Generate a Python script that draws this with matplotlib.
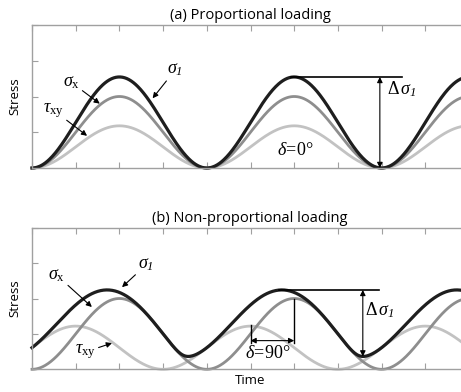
import numpy as np
import matplotlib
matplotlib.use('Agg')
from matplotlib import pyplot as plt

plt.rcParams['mathtext.fontset'] = 'custom'
plt.rcParams['mathtext.rm'] = 'Liberation Serif'
plt.rcParams['mathtext.it'] = 'Liberation Serif:italic'
plt.rcParams['mathtext.cal'] = 'Liberation Serif:italic'  # used for the italic "1"

# loading parameters (x in tick units, one period = 4 ticks)
panels = ['(a) Proportional loading', '(b) Non-proportional loading']
period = 4.0
sx_peak = [2.0, 2.0]
txy_peak = [1.18, 1.22]
phase_deg = [0, 90]
x_ticks = [0, 1, 2, 3, 4, 5, 6, 7, 8, 9, 10]
y_ticks = [0, 1, 2, 3, 4]

black = '#1e1e1e'
mid = '#8e8e8e'
light = '#c2c2c2'
spine = '#a0a0a0'
serif = 'Liberation Serif'

fig = plt.figure(figsize=(4.61, 3.92), dpi=100)
ax1 = fig.add_axes([32/461, 1-168/392, 437/461, 143/392])
ax2 = fig.add_axes([32/461, 1-369.3/392, 437/461, 141.6/392])

t = np.linspace(0, 10, 600)
curves = []
for ax, title, sp, tp, ph in zip([ax1, ax2], panels, sx_peak, txy_peak, phase_deg):
    w = 2*np.pi*t/period
    sx = sp/2*(1 - np.cos(w))
    txy = tp/2*(1 - np.cos(w + np.radians(ph)))
    s1 = sx/2 + np.sqrt((sx/2)**2 + txy**2)
    ax.plot(t, txy, color=light, lw=2.0, clip_on=False)
    ax.plot(t, sx, color=mid, lw=2.0, clip_on=False)
    ax.plot(t, s1, color=black, lw=2.3, clip_on=False)
    curves.append(s1)

    ax.set_xlim(0, 10)
    ax.set_ylim(0, 4)
    ax.set_xticks(x_ticks)
    ax.set_yticks(y_ticks)
    ax.set_xticklabels([])
    ax.set_yticklabels([])
    ax.tick_params(direction='in', length=4, width=0.8, color=spine,
                   top=True, right=False)
    for s in ax.spines.values():
        s.set_color(spine)
        s.set_linewidth(1.0)
    ax.spines['right'].set_visible(False)
    ax.set_title(title, family='Open Sans', fontsize=10.5, pad=4, x=218/437)
    ax.set_ylabel('Stress', family='Open Sans', fontsize=9.5, labelpad=4)

ax2.set_xlabel('Time', family='Open Sans', fontsize=9.5, labelpad=0, x=218/437)

arw = dict(arrowstyle='-|>', lw=0.8, color='black', mutation_scale=8,
           shrinkA=0, shrinkB=0)
dbl = dict(arrowstyle='<|-|>', lw=0.8, color='black', mutation_scale=8,
           shrinkA=0, shrinkB=0)
lab = dict(fontsize=13, va='center', ha='left', family=serif)

s1_lab = r'$\sigma_{\mathcal{1}}$'
ds1_lab = r'$\Delta\,\sigma_{\mathcal{1}}$'

# panel (a)
ax1.annotate(s1_lab, xy=(2.76, 1.95), xytext=(3.1, 2.75),
             arrowprops=arw, **lab)
ax1.annotate(r'$\sigma_{\mathrm{x}}$', xy=(1.55, 1.8), xytext=(0.7, 2.4),
             arrowprops=arw, **lab)
ax1.annotate(r'$\tau_{\mathrm{xy}}$', xy=(1.26, 0.9), xytext=(0.25, 1.62),
             arrowprops=arw, **lab)
pk = curves[0].max()
ax1.plot([5.93, 8.47], [pk, pk], color='black', lw=1.2)
ax1.annotate('', xy=(7.96, 0), xytext=(7.96, pk), arrowprops=dbl)
ax1.text(8.12, 2.2, ds1_lab, **lab)
ax1.text(5.6, 0.48, r'$\delta\!=\!0°$', **lab)

# panel (b)
ax2.annotate(s1_lab, xy=(2.06, 2.32), xytext=(2.43, 2.95),
             arrowprops=arw, **lab)
ax2.annotate(r'$\sigma_{\mathrm{x}}$', xy=(1.37, 1.76), xytext=(0.37, 2.66),
             arrowprops=arw, **lab)
ax2.annotate(r'$\tau_{\mathrm{xy}}$', xy=(1.83, 0.74), xytext=(0.98, 0.49),
             arrowprops=arw, **lab)
ax2.plot([5, 5], [0.74, 1.25], color='black', lw=1.0)
ax2.plot([6, 6], [0.74, 2.0], color='black', lw=1.0)
ax2.annotate('', xy=(5, 0.81), xytext=(6, 0.81), arrowprops=dbl)
ax2.text(4.88, 0.44, r'$\delta\!=\!90°$', **lab)
pk2 = curves[1].max()
ax2.plot([5.65, 7.94], [pk2, pk2], color='black', lw=1.2)
ax2.annotate('', xy=(7.57, curves[1].min()), xytext=(7.57, pk2), arrowprops=dbl)
ax2.text(7.62, 1.68, ds1_lab, **lab)

fig.savefig('out.png', dpi=100)
